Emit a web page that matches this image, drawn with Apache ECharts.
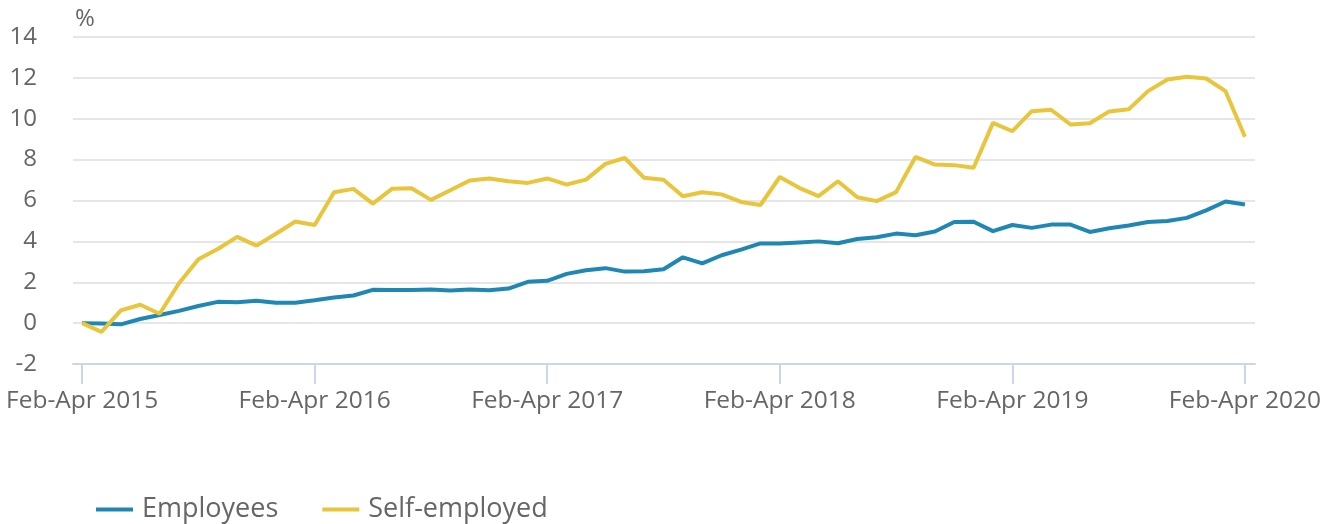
<!DOCTYPE html>
<html>
<head>
<meta charset="utf-8">
<script src="https://cdn.jsdelivr.net/npm/echarts@6/dist/echarts.min.js"></script>
<style>
  html, body { margin: 0; padding: 0; background: #fff; }
  #chart { width: 1325px; height: 524px; }
</style>
</head>
<body>
<div id="chart"></div>
<script>
// rolling three-month periods, Feb-Apr 2015 .. Feb-Apr 2020 (index 0..60)
const tickIndex = [0, 12, 24, 36, 48, 60]
const tickLabels = ['Feb-Apr 2015', 'Feb-Apr 2016', 'Feb-Apr 2017', 'Feb-Apr 2018', 'Feb-Apr 2019', 'Feb-Apr 2020']
const yTicks = [-2, 0, 2, 4, 6, 8, 10, 12, 14]

const employees = [0, -0.02, -0.06, 0.2, 0.4, 0.6, 0.84, 1.04, 1.02, 1.1,
  1.0, 1.0, 1.12, 1.25, 1.35, 1.63, 1.62, 1.62, 1.64, 1.6,
  1.64, 1.61, 1.69, 2.02, 2.07, 2.41, 2.59, 2.69, 2.52, 2.54,
  2.64, 3.22, 2.92, 3.32, 3.6, 3.9, 3.9, 3.95, 4.0, 3.91,
  4.12, 4.2, 4.38, 4.3, 4.48, 4.95, 4.96, 4.5, 4.8, 4.66,
  4.82, 4.82, 4.46, 4.64, 4.78, 4.95, 5.0, 5.15, 5.52, 5.95, 5.8]

const selfEmployed = [0, -0.43, 0.62, 0.9, 0.46, 1.95, 3.12, 3.63, 4.22, 3.79,
  4.37, 4.97, 4.8, 6.4, 6.57, 5.85, 6.58, 6.6, 6.03, 6.5,
  6.98, 7.08, 6.94, 6.86, 7.08, 6.78, 7.02, 7.79, 8.08, 7.11,
  7.02, 6.21, 6.4, 6.3, 5.93, 5.78, 7.15, 6.62, 6.21, 6.94,
  6.16, 5.97, 6.41, 8.13, 7.76, 7.73, 7.6, 9.8, 9.39, 10.37,
  10.44, 9.72, 9.78, 10.36, 10.46, 11.35, 11.92, 12.05, 11.97, 11.35, 9.12]

const font = '"Open Sans", sans-serif'
const textColor = '#666'

function pairs(arr) {
  return arr.map((v, i) => [i, v])
}

const chart = echarts.init(document.getElementById('chart'))
chart.setOption({
  animation: false,
  backgroundColor: '#fff',
  // unit label above the y axis
  title: {
    text: '%',
    left: 70,
    top: 2,
    textStyle: { color: textColor, fontSize: 24, fontWeight: 'normal', fontFamily: font },
  },
  grid: { left: 73, right: 70, top: 37, bottom: 160 },
  legend: {
    left: 91,
    top: 491,
    itemWidth: 37,
    itemHeight: 4,
    itemGap: 44,
    icon: 'rect',
    textStyle: { color: textColor, fontSize: 27, fontFamily: font, padding: [0, 0, 0, 4] },
    data: ['Employees', 'Self-employed'],
  },
  xAxis: {
    type: 'value',
    min: -0.47,
    max: 60.52,
    splitLine: { show: false },
    axisLine: { show: true, onZero: false, lineStyle: { color: '#ccd6eb', width: 2 } },
    axisTick: {
      show: true,
      length: 20,
      customValues: tickIndex,
      lineStyle: { color: '#ccd6eb', width: 2 },
    },
    axisLabel: {
      customValues: tickIndex,
      color: textColor,
      fontSize: 24.5,
      fontFamily: font,
      margin: 25,
      formatter: (v) => tickLabels[tickIndex.indexOf(Math.round(v))] || '',
    },
  },
  yAxis: {
    type: 'value',
    min: -2,
    max: 14,
    interval: 2,
    axisLine: { show: false },
    axisTick: { show: false },
    axisLabel: {
      color: textColor,
      fontSize: 24,
      fontFamily: font,
      margin: 36,
      formatter: (v) => (yTicks.indexOf(v) >= 0 ? String(v) : ''),
    },
    splitLine: { lineStyle: { color: '#e6e6e6', width: 2 } },
  },
  series: [
    {
      name: 'Employees',
      type: 'line',
      data: pairs(employees),
      showSymbol: false,
      lineStyle: { color: '#1f87b3', width: 4 },
      itemStyle: { color: '#1f87b3' },
    },
    {
      name: 'Self-employed',
      type: 'line',
      data: pairs(selfEmployed),
      showSymbol: false,
      lineStyle: { color: '#e8c53b', width: 4 },
      itemStyle: { color: '#e8c53b' },
    },
  ],
})
</script>
</body>
</html>
